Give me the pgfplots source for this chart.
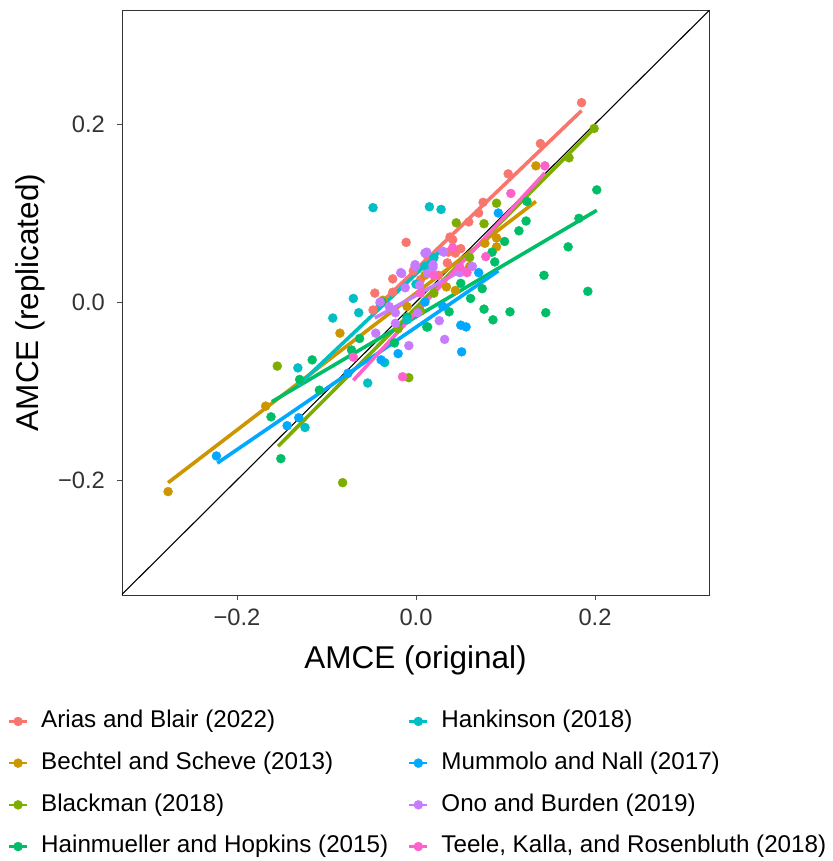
\documentclass[border=0pt]{standalone}
\usepackage{pgfplots}
\pgfplotsset{compat=1.18}
\usepackage{fontspec}
\setmainfont{Liberation Sans}
\definecolor{cA}{HTML}{F8766D}
\definecolor{cB}{HTML}{CD9600}
\definecolor{cC}{HTML}{7CAE00}
\definecolor{cD}{HTML}{00BE67}
\definecolor{cE}{HTML}{00BFC4}
\definecolor{cF}{HTML}{00A9FF}
\definecolor{cG}{HTML}{C77CFF}
\definecolor{cH}{HTML}{FF61CC}
\begin{document}
\begin{tikzpicture}
\useasboundingbox (-122pt,-266pt) rectangle (710pt,595pt);
\begin{axis}[
  at={(0pt,0pt)}, anchor=south west,
  width=587pt, height=585pt, scale only axis,
  xmin=-0.3285, xmax=0.3274, ymin=-0.3292, ymax=0.3281,
  xtick={-0.2,0,0.2}, xticklabels={−0.2,0.0,0.2},
  ytick={-0.2,0,0.2}, yticklabels={−0.2,0.0,0.2},
  xtick pos=bottom, ytick pos=left,
  tick align=outside, major tick length=5pt,
  axis line style={draw=black!80, line width=0.9pt},
  every tick/.style={black!70, line width=0.9pt},
  ticklabel style={font=\fontsize{23.7}{28}\selectfont, text=black!80, inner sep=0pt},
  xticklabel style={anchor=center, yshift=-17pt},
  yticklabel style={anchor=east, xshift=-12pt},
  xlabel={AMCE (original)}, ylabel={AMCE (replicated)},
  label style={font=\fontsize{31.5}{36}\selectfont},
  xlabel style={at={(axis description cs:0.5,-0.111)}, anchor=center},
  ylabel style={at={(axis description cs:-0.1567,0.5)}, anchor=center},
  legend columns=2,
  legend cell align=left,
  legend image code/.code={
    \draw[line width=2.2pt] (0pt,0pt) -- (18pt,0pt);
    \fill (9pt,0pt) circle (4.5pt);
  },
  legend style={at={(axis description cs:-0.1942,-0.197)}, anchor=north west,
    draw=none, fill=none, inner sep=0pt, outer sep=0pt,
    font=\fontsize{24.2}{28}\selectfont,
    nodes={inner sep=0pt, text height=17.4pt, text depth=5pt},
    row sep=19.3pt,
    /tikz/every odd column/.append style={column sep=13pt},
    /tikz/every even column/.append style={column sep=20pt}},
]
% diagonal
\addplot[black, line width=1.1pt, forget plot] coordinates {(-0.4,-0.4) (0.4,0.4)};

% points
\addplot[only marks, mark=*, mark size=4.5pt, color=cA, forget plot] coordinates {
(0.185,0.224) (0.139,0.178) (0.103,0.144) (0.075,0.112) (0.070,0.100) (0.059,0.090)
(0.038,0.073) (0.041,0.070) (-0.011,0.067) (0.044,0.055) (0.012,0.053) (0.035,0.044)
(-0.003,0.035) (-0.026,0.026) (-0.046,0.010) (-0.026,0.011) (-0.048,-0.009)
(0.036,0.056) (0.050,0.060) (0.025,0.030) (0.005,0.025)};
\addplot[only marks, mark=*, mark size=4.5pt, color=cB, forget plot] coordinates {
(-0.277,-0.213) (-0.168,-0.117) (-0.085,-0.035) (0.134,0.153) (0.090,0.072) (0.077,0.066)
(0.090,0.062) (-0.037,0.002) (0.034,0.017) (0.044,0.013) (0.010,0.030) (-0.010,-0.005) (0.060,0.040)};
\addplot[only marks, mark=*, mark size=4.5pt, color=cC, forget plot] coordinates {
(0.199,0.195) (0.171,0.162) (0.090,0.111) (0.045,0.089) (0.076,0.088) (-0.155,-0.072)
(-0.082,-0.203) (-0.008,-0.085) (0.020,0.010) (-0.020,-0.030) (0.005,-0.010) (0.060,0.050)};
\addplot[only marks, mark=*, mark size=4.5pt, color=cD, forget plot] coordinates {
(0.202,0.126) (0.182,0.094) (0.170,0.062) (0.143,0.030) (0.192,0.012) (0.123,0.091)
(0.115,0.080) (0.124,0.113) (0.099,0.068) (0.088,0.045) (0.085,0.056) (0.074,0.015)
(0.061,0.004) (0.050,0.021) (0.145,-0.012) (0.105,-0.011) (0.086,-0.020) (0.076,-0.008)
(0.037,-0.011) (0.012,-0.028) (-0.010,-0.017) (-0.151,-0.176) (-0.162,-0.129)
(-0.116,-0.065) (-0.108,-0.099) (-0.130,-0.087) (-0.072,-0.054) (-0.063,-0.041)
(-0.024,-0.046) (0.013,-0.028) (-0.038,0.000)};
\addplot[only marks, mark=*, mark size=4.5pt, color=cE, forget plot] coordinates {
(-0.048,0.106) (0.015,0.107) (0.028,0.104) (-0.070,0.004) (-0.093,-0.018) (-0.064,-0.012)
(-0.132,-0.074) (-0.124,-0.141) (-0.054,-0.091) (-0.035,-0.068) (-0.040,-0.001)
(0.000,0.020) (0.020,0.050) (-0.010,-0.020) (0.010,0.040)};
\addplot[only marks, mark=*, mark size=4.5pt, color=cF, forget plot] coordinates {
(-0.223,-0.173) (-0.144,-0.139) (-0.131,-0.130) (-0.076,-0.080) (-0.039,-0.065)
(-0.020,-0.058) (0.051,-0.056) (0.050,-0.026) (0.056,-0.028) (0.092,0.100) (0.070,0.033)
(0.030,-0.005) (0.010,0.000)};
\addplot[only marks, mark=*, mark size=4.5pt, color=cG, forget plot] coordinates {
(-0.017,0.033) (-0.001,0.040) (0.012,0.056) (0.019,0.039) (0.031,0.056) (0.004,0.019)
(-0.012,0.016) (-0.045,-0.035) (-0.008,-0.049) (-0.023,-0.024) (-0.023,-0.012)
(0.032,-0.042) (0.026,-0.021) (0.002,-0.012) (0.010,0.055) (0.030,0.057) (0.019,0.042)
(-0.001,0.042) (-0.016,0.032) (0.013,0.032) (0.049,0.033) (0.063,0.040) (-0.040,0.000) (-0.030,-0.005)};
\addplot[only marks, mark=*, mark size=4.5pt, color=cH, forget plot] coordinates {
(0.144,0.153) (0.106,0.122) (0.078,0.051) (-0.015,-0.084) (-0.070,-0.062) (0.041,0.061)
(0.057,0.033) (0.049,0.039) (0.020,0.030) (0.005,0.010)};

% fitted lines
\addplot[cA, line width=3.6pt, forget plot] coordinates {(-0.048,-0.0096) (0.185,0.215)};
\addplot[cB, line width=3.6pt, forget plot] coordinates {(-0.277,-0.203) (0.134,0.113)};
\addplot[cC, line width=3.6pt, forget plot] coordinates {(-0.154,-0.162) (0.199,0.195)};
\addplot[cD, line width=3.6pt, forget plot] coordinates {(-0.161,-0.112) (0.202,0.103)};
\addplot[cE, line width=3.6pt, forget plot] coordinates {(-0.132,-0.094) (0.028,0.058)};
\addplot[cF, line width=3.6pt, forget plot] coordinates {(-0.222,-0.181) (0.092,0.035)};
\addplot[cG, line width=3.6pt, forget plot] coordinates {(-0.046,-0.018) (0.063,0.042)};
\addplot[cH, line width=3.6pt, forget plot] coordinates {(-0.070,-0.088) (0.144,0.145)};

% legend (column-wise order as in reference)
\addlegendimage{cA}\addlegendentry{Arias and Blair (2022)}
\addlegendimage{cE}\addlegendentry{Hankinson (2018)}
\addlegendimage{cB}\addlegendentry{Bechtel and Scheve (2013)}
\addlegendimage{cF}\addlegendentry{Mummolo and Nall (2017)}
\addlegendimage{cC}\addlegendentry{Blackman (2018)}
\addlegendimage{cG}\addlegendentry{Ono and Burden (2019)}
\addlegendimage{cD}\addlegendentry{Hainmueller and Hopkins (2015)}
\addlegendimage{cH}\addlegendentry{Teele, Kalla, and Rosenbluth (2018)}
\end{axis}
\end{tikzpicture}
\end{document}
